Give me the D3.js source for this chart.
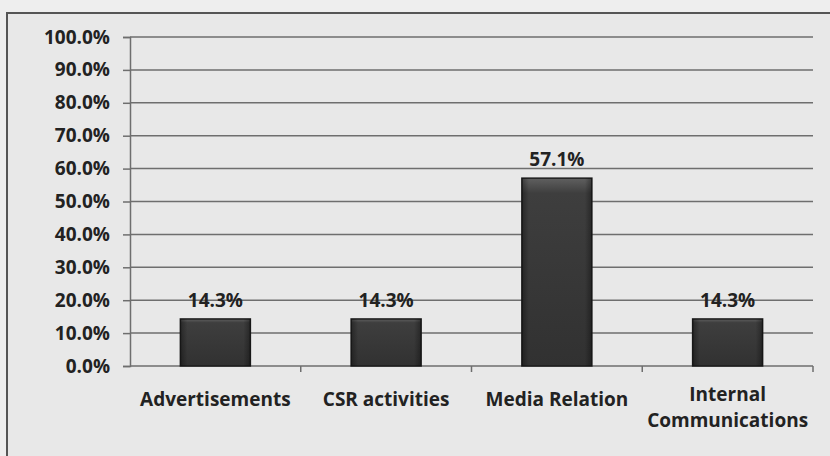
<!DOCTYPE html>
<html>
<head>
<meta charset="utf-8">
<script src="https://cdn.jsdelivr.net/npm/d3@7"></script>
<style>
  html, body { margin: 0; padding: 0; background: #ededed; }
  svg { display: block; }
  text { font-family: "Open Sans", Lato, sans-serif; font-weight: bold; fill: #222; }
</style>
</head>
<body>
<svg id="chart" width="830" height="456"></svg>
<script>
// Share of responses by communication channel
const categories = ["Advertisements", "CSR activities", "Media Relation", "Internal Communications"];
const shares = [14.3, 14.3, 57.1, 14.3];
const yTicks = [0, 10, 20, 30, 40, 50, 60, 70, 80, 90, 100];

const svg = d3.select("#chart");
const W = 830, H = 456;
const margin = { left: 130, right: 17, top: 37, bottom: 90 };
const FONT = 19;

// background and outer frame
svg.append("rect").attr("width", W).attr("height", H).attr("fill", "#eeeeee");
svg.append("rect")
  .attr("x", 7).attr("y", 13).attr("width", W + 20).attr("height", H)
  .attr("fill", "#e8e8e8").attr("stroke", "#555").attr("stroke-width", 2);

const x = d3.scaleBand()
  .domain(categories)
  .range([margin.left, W - margin.right])
  .paddingInner(0.59)
  .paddingOuter(0.295);

const y = d3.scaleLinear().domain([0, 100]).range([H - margin.bottom, margin.top]);

// gridlines
svg.append("g")
  .selectAll("line")
  .data(yTicks.filter(d => d > 0))
  .join("line")
  .attr("x1", margin.left).attr("x2", W - margin.right)
  .attr("y1", d => y(d)).attr("y2", d => y(d))
  .attr("stroke", "#6e6e6e").attr("stroke-width", 1.5);

// y axis
const yAxis = svg.append("g")
  .attr("transform", `translate(${margin.left},0)`)
  .call(d3.axisLeft(y).tickValues(yTicks).tickSize(7).tickPadding(13)
    .tickFormat(d => d.toFixed(1) + "%"));
yAxis.attr("font-family", null).attr("font-size", null);
yAxis.select(".domain").attr("stroke", "#6e6e6e").attr("stroke-width", 1.5);
yAxis.selectAll(".tick line").attr("stroke", "#6e6e6e").attr("stroke-width", 1.5);
yAxis.selectAll(".tick text").attr("font-size", FONT).attr("fill", "#222");

// x axis with tick marks on the band boundaries
const x0 = y(0);
const xAxisG = svg.append("g");
xAxisG.append("line")
  .attr("x1", margin.left).attr("x2", W - margin.right)
  .attr("y1", x0).attr("y2", x0)
  .attr("stroke", "#6e6e6e").attr("stroke-width", 1.5);
const bandEdge = c => x(c) + x.bandwidth() / 2 + x.step() / 2;
xAxisG.selectAll("line.tk")
  .data(categories)
  .join("line")
  .attr("class", "tk")
  .attr("x1", bandEdge).attr("x2", bandEdge)
  .attr("y1", x0).attr("y2", x0 + 6)
  .attr("stroke", "#6e6e6e").attr("stroke-width", 1.5);

// bar shading
const defs = svg.append("defs");
const grad = defs.append("linearGradient").attr("id", "barFill").attr("x1", 0).attr("x2", 0).attr("y1", 0).attr("y2", 1);
grad.append("stop").attr("offset", "0%").attr("stop-color", "#606060");
grad.append("stop").attr("offset", "8%").attr("stop-color", "#3e3e3e");
grad.append("stop").attr("offset", "100%").attr("stop-color", "#313131");
const hgrad = defs.append("linearGradient").attr("id", "barSide").attr("x1", 0).attr("x2", 1).attr("y1", 0).attr("y2", 0);
hgrad.append("stop").attr("offset", "0%").attr("stop-color", "#000").attr("stop-opacity", 0.35);
hgrad.append("stop").attr("offset", "10%").attr("stop-color", "#000").attr("stop-opacity", 0);
hgrad.append("stop").attr("offset", "90%").attr("stop-color", "#000").attr("stop-opacity", 0);
hgrad.append("stop").attr("offset", "100%").attr("stop-color", "#000").attr("stop-opacity", 0.35);

const data = categories.map((c, i) => ({ c, v: shares[i] }));

const bars = svg.append("g").selectAll("g").data(data).join("g");
bars.append("rect")
  .attr("x", d => x(d.c)).attr("y", d => y(d.v))
  .attr("width", x.bandwidth()).attr("height", d => y(0) - y(d.v))
  .attr("fill", "url(#barFill)").attr("stroke", "#1c1c1c").attr("stroke-width", 1.5);
bars.append("rect")
  .attr("x", d => x(d.c)).attr("y", d => y(d.v))
  .attr("width", x.bandwidth()).attr("height", d => y(0) - y(d.v))
  .attr("fill", "url(#barSide)");

// value labels
svg.append("g").selectAll("text").data(data).join("text")
  .attr("x", d => x(d.c) + x.bandwidth() / 2)
  .attr("y", d => y(d.v) - 12)
  .attr("text-anchor", "middle")
  .attr("font-size", FONT)
  .text(d => d.v.toFixed(1) + "%");

// category labels; the long one breaks onto two lines
const catG = svg.append("g").selectAll("text").data(categories).join("text")
  .attr("x", d => x(d) + x.bandwidth() / 2)
  .attr("y", x0 + 40)
  .attr("text-anchor", "middle")
  .attr("font-size", FONT);
catG.each(function(d) {
  const t = d3.select(this);
  const words = d.split(" ");
  const lines = words.length > 1 && d.length > 16 ? words : [d];
  const dy0 = lines.length > 1 ? -5 : 0;
  lines.forEach((ln, i) => {
    t.append("tspan").attr("x", x(d) + x.bandwidth() / 2).attr("dy", i === 0 ? dy0 : 26).text(ln);
  });
});
</script>
</body>
</html>
